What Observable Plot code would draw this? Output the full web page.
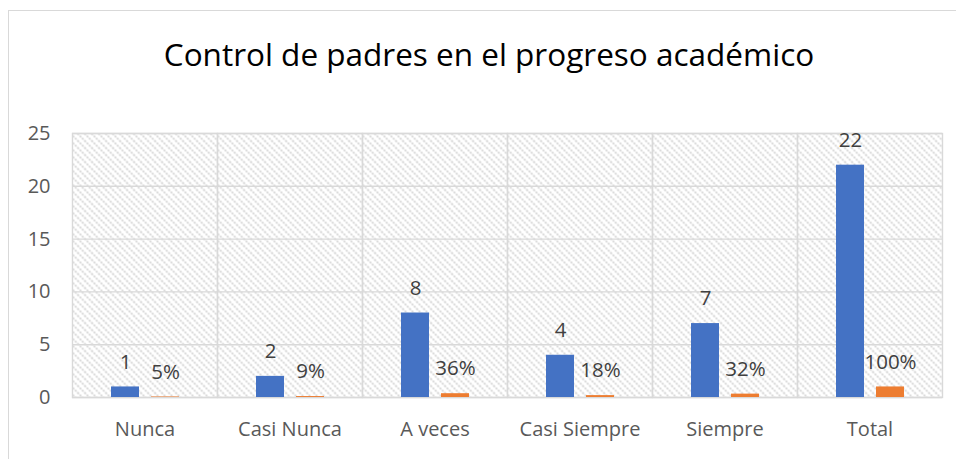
<!DOCTYPE html>
<html>
<head>
<meta charset="utf-8">
<script src="https://cdn.jsdelivr.net/npm/d3@7"></script>
<script src="https://cdn.jsdelivr.net/npm/@observablehq/plot@0.6"></script>
<style>
  html, body { margin: 0; padding: 0; background: #fff; }
  #wrap { position: relative; width: 956px; height: 459px; overflow: hidden; background: #fff; }
  #box { position: absolute; left: 8px; top: 10px; width: 1200px; height: 800px;
         border-left: 1.5px solid #d9d9d9; border-top: 1.5px solid #d9d9d9; }
  #title { position: absolute; left: 0; width: 978px; top: 32px; text-align: center;
           font-family: "Open Sans", sans-serif; font-size: 31.5px; color: #000; line-height: 44px; }
  #chart { position: absolute; left: 0; top: 0; }
</style>
</head>
<body>
<div id="wrap">
  <div id="box"></div>
  <div id="title">Control de padres en el progreso académico</div>
  <div id="chart"></div>
</div>
<script>
const categories = ["Nunca", "Casi Nunca", "A veces", "Casi Siempre", "Siempre", "Total"];
const counts = [1, 2, 8, 4, 7, 22];
const percents = [0.05, 0.09, 0.36, 0.18, 0.32, 1.00];
const yTicks = [0, 5, 10, 15, 20, 25];

const data = [];
categories.forEach((c, i) => {
  data.push({cat: c, series: "count", value: counts[i], label: String(counts[i])});
  data.push({cat: c, series: "pct", value: percents[i], label: Math.round(percents[i] * 100) + "%"});
});

const svg = Plot.plot({
  width: 956,
  height: 459,
  marginLeft: 72,
  marginRight: 14,
  marginTop: 133,
  marginBottom: 62,
  style: {fontFamily: "Open Sans", fontSize: "20px", color: "#595959", background: "transparent", overflow: "visible"},
  facet: {data: data, x: "cat"},
  fx: {domain: categories, padding: 0, axis: "bottom", tickSize: 0, tickPadding: 24, label: null},
  x: {domain: ["count", "pct"], paddingInner: 0.3, paddingOuter: 0.9625, axis: null},
  y: {domain: [0, 25], ticks: yTicks, tickSize: 0, tickPadding: 22, label: null},
  color: {domain: ["count", "pct"], range: ["#4472C4", "#ED7D31"]},
  marks: [
    Plot.frame({fill: "#fefefe"}),
    Plot.ruleY(yTicks, {stroke: "#d9d9d9", strokeWidth: 1.4}),
    Plot.frame({stroke: "#d9d9d9", strokeWidth: 1.4}),
    Plot.barY(data, {x: "series", y: "value", fill: "series"}),
    Plot.text(data, {x: "series", y: "value", text: "label", dy: -25, fill: "#404040", fontSize: 20.5})
  ]
});

const s = d3.select(svg);
s.insert("defs", ":first-child").html(
  '<pattern id="hatch" patternUnits="userSpaceOnUse" width="7" height="7">' +
  '<rect width="7" height="7" fill="#ffffff"/>' +
  '<path d="M0,0 L7,7 M-3.5,3.5 L3.5,10.5 M3.5,-3.5 L10.5,3.5" stroke="#cfcfcf" stroke-width="1.6" stroke-dasharray="2,1.2"/>' +
  '</pattern>'
);
s.selectAll('[fill="#fefefe"]').attr("fill", "url(#hatch)");

document.getElementById("chart").appendChild(svg);
</script>
</body>
</html>
